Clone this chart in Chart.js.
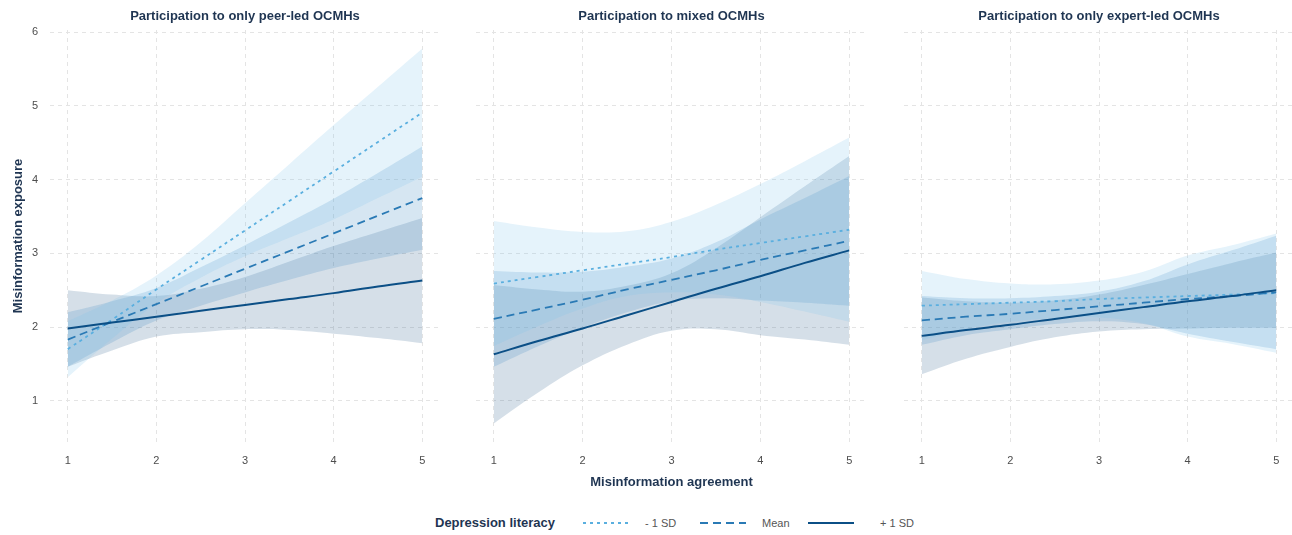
<!DOCTYPE html>
<html>
<head>
<meta charset="utf-8">
<script src="https://cdn.jsdelivr.net/npm/chart.js@4.4.1/dist/chart.umd.min.js"></script>
<style>
  html, body { margin: 0; padding: 0; background: #fff; }
  #figure { position: relative; width: 1292px; height: 535px; overflow: hidden; font-family: "Liberation Sans", Arial, sans-serif; }
  .panel { position: absolute; top: 0; }
  .panel canvas { display: block; }
  #legend { position: absolute; top: 513px; left: 0; width: 1292px; height: 20px; font-size: 11px; color: #555; }
  #legend > * { position: absolute; top: 0; line-height: 20px; white-space: nowrap; }
  #legend .title { font-weight: bold; font-size: 13px; color: #1f3552; }
</style>
</head>
<body>
<div id="figure">
  <div class="panel" style="left:0px"><canvas id="peerChart" width="440" height="492"></canvas></div>
  <div class="panel" style="left:476px"><canvas id="mixedChart" width="391" height="492"></canvas></div>
  <div class="panel" style="left:904px"><canvas id="expertChart" width="390" height="492"></canvas></div>
  <div id="legend"></div>
</div>
<script>
// Data (x = misinformation agreement)
const xGrid = [1, 1.5, 2, 2.5, 3, 3.5, 4, 4.5, 5];
const xTicks = [1, 2, 3, 4, 5];
const yTicks = [1, 2, 3, 4, 5, 6];
const seriesLabels = ['- 1 SD', 'Mean', '+ 1 SD'];
const panelTitles = [
  'Participation to only peer-led OCMHs',
  'Participation to mixed OCMHs',
  'Participation to only expert-led OCMHs'
];

// Panel 1: only peer-led
const peerMinus   = [1.70, 2.10, 2.51, 2.91, 3.31, 3.71, 4.11, 4.51, 4.91];
const peerMinusLo = [1.32, 1.84, 2.32, 2.67, 2.96, 3.21, 3.46, 3.75, 4.04];
const peerMinusHi = [2.08, 2.36, 2.70, 3.15, 3.68, 4.21, 4.74, 5.26, 5.78];
const peerMean    = [1.83, 2.07, 2.31, 2.55, 2.79, 3.03, 3.27, 3.51, 3.75];
const peerMeanLo  = [1.46, 1.79, 2.09, 2.29, 2.47, 2.64, 2.80, 2.93, 3.05];
const peerMeanHi  = [2.20, 2.35, 2.53, 2.81, 3.11, 3.42, 3.74, 4.09, 4.45];
const peerPlus    = [1.98, 2.06, 2.14, 2.22, 2.30, 2.38, 2.46, 2.55, 2.63];
const peerPlusLo  = [1.46, 1.68, 1.87, 1.93, 1.97, 1.96, 1.91, 1.85, 1.78];
const peerPlusHi  = [2.50, 2.44, 2.42, 2.52, 2.68, 2.89, 3.10, 3.29, 3.48];

// Panel 2: mixed
const mixMinus   = [2.59, 2.68, 2.77, 2.86, 2.95, 3.05, 3.14, 3.23, 3.32];
const mixMinusLo = [1.74, 2.01, 2.25, 2.42, 2.47, 2.44, 2.34, 2.21, 2.07];
const mixMinusHi = [3.44, 3.35, 3.29, 3.30, 3.43, 3.66, 3.94, 4.25, 4.57];
const mixMean    = [2.11, 2.24, 2.37, 2.51, 2.64, 2.77, 2.91, 3.04, 3.17];
const mixMeanLo  = [1.46, 1.74, 1.99, 2.20, 2.35, 2.39, 2.36, 2.33, 2.29];
const mixMeanHi  = [2.76, 2.74, 2.75, 2.82, 2.93, 3.15, 3.46, 3.75, 4.05];
const mixPlus    = [1.63, 1.81, 1.98, 2.16, 2.34, 2.52, 2.69, 2.87, 3.04];
const mixPlusLo  = [0.69, 1.11, 1.48, 1.76, 1.95, 1.97, 1.89, 1.83, 1.76];
const mixPlusHi  = [2.57, 2.51, 2.48, 2.56, 2.73, 3.07, 3.49, 3.91, 4.32];

// Panel 3: only expert-led
const expMinus   = [2.29, 2.31, 2.33, 2.35, 2.38, 2.40, 2.42, 2.44, 2.46];
const expMinusLo = [1.82, 1.97, 2.07, 2.12, 2.13, 2.05, 1.87, 1.77, 1.65];
const expMinusHi = [2.76, 2.65, 2.59, 2.58, 2.63, 2.75, 2.97, 3.11, 3.27];
const expMean    = [2.09, 2.14, 2.18, 2.23, 2.28, 2.33, 2.38, 2.42, 2.47];
const expMeanLo  = [1.76, 1.89, 1.97, 2.04, 2.08, 2.04, 1.91, 1.80, 1.70];
const expMeanHi  = [2.42, 2.39, 2.39, 2.42, 2.48, 2.62, 2.85, 3.04, 3.24];
const expPlus    = [1.88, 1.96, 2.03, 2.11, 2.19, 2.27, 2.35, 2.42, 2.50];
const expPlusLo  = [1.36, 1.57, 1.73, 1.86, 1.94, 1.97, 1.98, 1.99, 1.99];
const expPlusHi  = [2.40, 2.35, 2.33, 2.36, 2.44, 2.57, 2.72, 2.87, 3.01];

// Styling
const NAVY = '#1f3552';
const TICK_GREY = '#4d4d4d';
const GRID = '#e4e4e4';
const LINE_COLORS = ['#5aafdf', '#2a7ab5', '#0b4f86'];
const BAND_COLORS = ['rgba(125,195,235,0.2)', 'rgba(70,140,195,0.22)', 'rgba(45,95,140,0.2)'];
const DASHES = [[3, 4], [8, 5], []];
const LINE_WIDTHS = [1.8, 1.8, 2];

const pts = ys => xGrid.map((x, i) => ({ x, y: ys[i] }));

function buildPanel(canvasId, title, series, showY, showXTitle) {
  const datasets = [];
  // confidence bands first (lower edge + upper edge filled to it)
  series.forEach(([mid, lo, hi], k) => {
    datasets.push({ label: seriesLabels[k] + ' lo', data: pts(lo), borderWidth: 0, borderColor: 'transparent',
      pointRadius: 0, fill: false, tension: 0.4, order: 10 });
    datasets.push({ label: seriesLabels[k] + ' hi', data: pts(hi), borderWidth: 0, borderColor: 'transparent',
      pointRadius: 0, fill: '-1', backgroundColor: BAND_COLORS[k], tension: 0.4, order: 10 });
  });
  series.forEach(([mid], k) => {
    datasets.push({ label: seriesLabels[k], data: pts(mid), borderColor: LINE_COLORS[k], borderDash: DASHES[k],
      borderWidth: LINE_WIDTHS[k], pointRadius: 0, fill: false, tension: 0.4, order: -k });
  });

  return new Chart(document.getElementById(canvasId), {
    type: 'line',
    data: { datasets },
    options: {
      responsive: false,
      animation: false,
      layout: { padding: 0 },
      scales: {
        x: {
          type: 'linear', min: 0.8, max: 5.2,
          afterBuildTicks: s => { s.ticks = xTicks.map(v => ({ value: v })); },
          afterFit: s => { s.height = 50; },
          grid: { color: GRID, drawTicks: false },
          border: { display: false, dash: [4, 4] },
          ticks: { padding: 12, color: TICK_GREY, font: { size: 11 } },
          title: { display: showXTitle, text: 'Misinformation agreement', color: NAVY,
            font: { size: 13, weight: 'bold' }, padding: { top: 0, bottom: 2 } }
        },
        y: {
          type: 'linear', min: 0.44, max: 6.03,
          afterBuildTicks: s => { s.ticks = yTicks.map(v => ({ value: v })); },
          afterFit: s => { s.width = showY ? 50 : 0; },
          grid: { color: GRID, drawTicks: false },
          border: { display: false, dash: [4, 4] },
          ticks: { display: showY, padding: 12, color: TICK_GREY, font: { size: 11 } },
          title: { display: showY, text: 'Misinformation exposure', color: NAVY,
            font: { size: 13, weight: 'bold' }, padding: { top: 11, bottom: 0 } }
        }
      },
      plugins: {
        legend: { display: false },
        tooltip: { enabled: false },
        title: { display: true, text: title, fullSize: false, color: NAVY,
          font: { size: 13, weight: 'bold' }, padding: { top: 9, bottom: 5.4 } }
      }
    }
  });
}

Chart.defaults.font.family = '"Liberation Sans", Arial, sans-serif';

buildPanel('peerChart', panelTitles[0],
  [[peerMinus, peerMinusLo, peerMinusHi], [peerMean, peerMeanLo, peerMeanHi], [peerPlus, peerPlusLo, peerPlusHi]], true, false);
buildPanel('mixedChart', panelTitles[1],
  [[mixMinus, mixMinusLo, mixMinusHi], [mixMean, mixMeanLo, mixMeanHi], [mixPlus, mixPlusLo, mixPlusHi]], false, true);
buildPanel('expertChart', panelTitles[2],
  [[expMinus, expMinusLo, expMinusHi], [expMean, expMeanLo, expMeanHi], [expPlus, expPlusLo, expPlusHi]], false, false);

// Legend along the bottom
const legend = document.getElementById('legend');
const legendLineX = [583, 700, 808];
const legendTextX = [645, 762, 880];
const legTitle = document.createElement('span');
legTitle.className = 'title';
legTitle.style.left = '435px';
legTitle.textContent = 'Depression literacy';
legend.appendChild(legTitle);
seriesLabels.forEach((lab, k) => {
  const svg = document.createElementNS('http://www.w3.org/2000/svg', 'svg');
  svg.setAttribute('width', '46');
  svg.setAttribute('height', '20');
  svg.style.left = legendLineX[k] + 'px';
  const ln = document.createElementNS('http://www.w3.org/2000/svg', 'line');
  ln.setAttribute('x1', '0'); ln.setAttribute('x2', '46');
  ln.setAttribute('y1', '10'); ln.setAttribute('y2', '10');
  ln.setAttribute('stroke', LINE_COLORS[k]);
  ln.setAttribute('stroke-width', LINE_WIDTHS[k]);
  if (DASHES[k].length) ln.setAttribute('stroke-dasharray', DASHES[k].join(' '));
  svg.appendChild(ln);
  legend.appendChild(svg);
  const t = document.createElement('span');
  t.style.left = legendTextX[k] + 'px';
  t.textContent = lab;
  legend.appendChild(t);
});
</script>
</body>
</html>
